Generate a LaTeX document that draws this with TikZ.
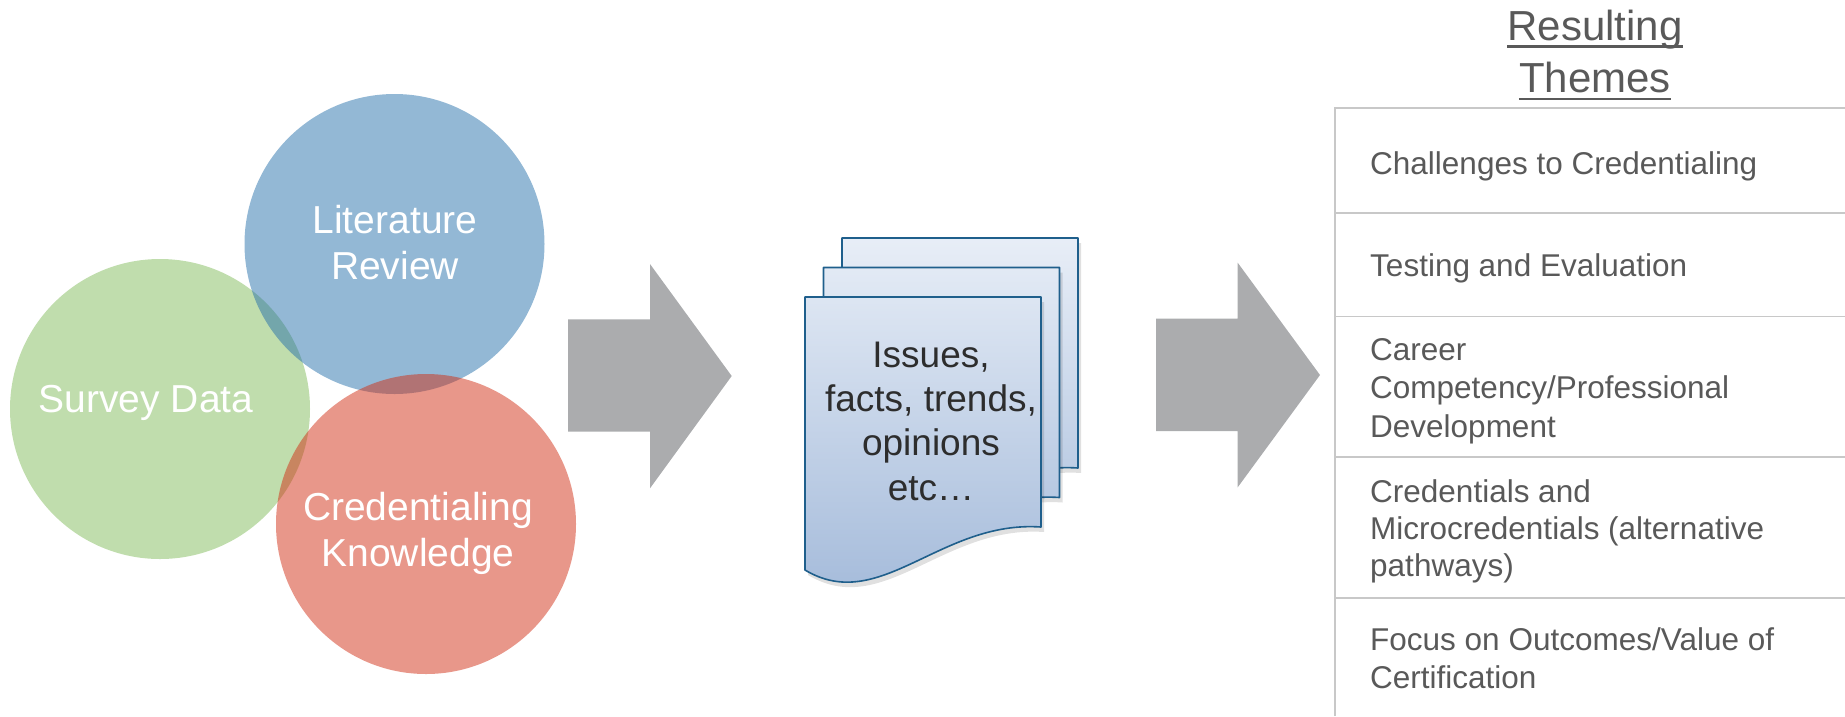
\documentclass[tikz,border=0pt]{standalone}
\usepackage{fontspec}
\setmainfont{Liberation Sans}
\usetikzlibrary{calc}
\definecolor{cgreen}{RGB}{129,187,91}
\definecolor{cblue}{RGB}{39,113,171}
\definecolor{cred}{RGB}{209,47,21}
\definecolor{arrowgray}{RGB}{171,172,174}
\definecolor{pageedge}{RGB}{31,95,140}
\definecolor{pagetop}{RGB}{232,238,247}
\definecolor{pagebot}{RGB}{166,188,219}
\definecolor{themegray}{RGB}{89,89,89}
\definecolor{gridgray}{RGB}{200,200,200}
\definecolor{doctext}{RGB}{45,45,45}
\newcommand{\pagepath}[2]{(#1,#2) -- ++(236,0) -- ++(0,230) .. controls +(-101,-7) and +(75,45) .. ++(-236,43) -- cycle}
\begin{document}
\begin{tikzpicture}[x=1pt,y=-1pt,
  venn/.style={circle, minimum size=300pt, inner sep=0pt, fill opacity=0.5},
  circtext/.style={anchor=base, inner sep=0pt, text=white, font=\fontsize{39}{46}\selectfont},
  doctxt/.style={anchor=base, inner sep=0pt, text=doctext, font=\fontsize{37}{44}\selectfont},
  titletxt/.style={anchor=base, inner sep=0pt, text=themegray, font=\fontsize{42}{50}\selectfont},
  rowtxt/.style={anchor=base west, inner sep=0pt, text=themegray, font=\fontsize{31.5}{38}\selectfont},
  blockarrow/.style={fill=arrowgray, draw=none},
  gridline/.style={draw=gridgray, line width=1.5pt}]
\useasboundingbox (0,0) rectangle (1845,716);
% Venn circles
\node[venn, fill=cgreen] (green) at (160,409) {};
\node[venn, fill=cblue] (blue) at (394.5,244) {};
\node[venn, fill=cred] (red) at (426,524) {};
\node[circtext] (sd) at (146,412) {Survey Data};
\node[circtext] (lit1) at (395,233.3) {Literature};
\node[circtext] (lit2) at (395,279) {Review};
\node[circtext] (cred1) at (418,520) {Credentialing};
\node[circtext] (cred2) at (418,566) {Knowledge};
% arrows
\fill[blockarrow] (568,319.3) -- (650,319.3) -- (650,264) -- (731.7,376) -- (650,488.3) -- (650,431.7) -- (568,431.7) -- cycle;
\fill[blockarrow] (1156,318.7) -- (1237.7,318.7) -- (1237.7,262.7) -- (1320,375) -- (1237.7,487.3) -- (1237.7,431) -- (1156,431) -- cycle;
% document stack
\foreach \px/\py in {842/238, 823.5/267.5, 805/297}{
  \fill[black, opacity=0.12] \pagepath{\px+3}{\py+5};
  \begin{scope}
    \clip \pagepath{\px}{\py};
    \shade[top color=pagetop, bottom color=pagebot] (790,236) rectangle (1090,590);
  \end{scope}
  \draw[pageedge, line width=1.6pt, line join=round] \pagepath{\px}{\py};
}
\node[doctxt] (d1) at (931,367) {Issues,};
\node[doctxt] (d2) at (931,411.4) {facts, trends,};
\node[doctxt] (d3) at (931,455.8) {opinions};
\node[doctxt] (d4) at (931,500.2) {etc…};
% title
\node[titletxt] (t1) at (1595,40) {Resulting};
\node[titletxt] (t2) at (1595,92.7) {Themes};
\draw[themegray, line width=2.5pt] ($(t1.base west)+(0,6.7)$) -- ($(t1.base east)+(0,6.7)$);
\draw[themegray, line width=2.5pt] ($(t2.base west)+(0,6.3)$) -- ($(t2.base east)+(0,6.3)$);
% table
\coordinate (tl) at (1335,108);
\coordinate (bl) at (1335,716);
\draw[gridline] (bl) -- (tl) -- (1845,108);
\draw[gridline] (1335,213) -- (1845,213);
\draw[gridline] (1335,316.7) -- (1845,316.7);
\draw[gridline] (1335,457) -- (1845,457);
\draw[gridline] (1335,598) -- (1845,598);
\node[rowtxt] (r1) at (1370,174) {Challenges to Credentialing};
\node[rowtxt] (r2) at (1370,276) {Testing and Evaluation};
\node[rowtxt] (r3a) at (1370,360.7) {Career};
\node[rowtxt] (r3b) at (1370,398.6) {Competency/Professional};
\node[rowtxt] (r3c) at (1370,437) {Development};
\node[rowtxt] (r4a) at (1370,502) {Credentials and};
\node[rowtxt] (r4b) at (1370,539.7) {Microcredentials (alternative};
\node[rowtxt] (r4c) at (1370,576) {pathways)};
\node[rowtxt] (r5a) at (1370,650.7) {Focus on Outcomes/Value of};
\node[rowtxt] (r5b) at (1370,688.6) {Certification};
\end{tikzpicture}
\end{document}
